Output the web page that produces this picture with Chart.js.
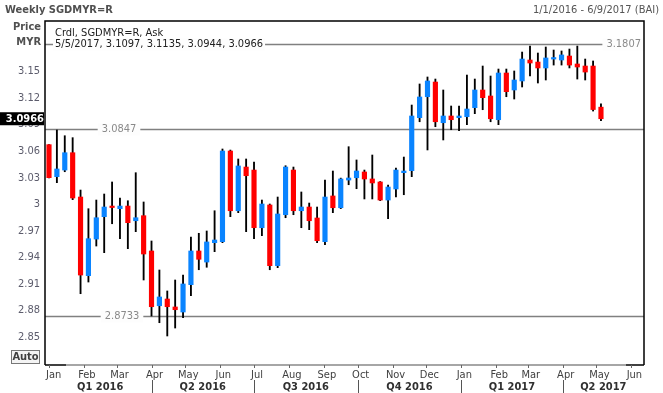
<!DOCTYPE html>
<html><head><meta charset="utf-8">
<script src="https://cdn.jsdelivr.net/npm/chart.js@4/dist/chart.umd.min.js"></script>
<style>html,body{margin:0;padding:0;background:#fff;} #wrap{position:relative;width:663px;height:393px;}</style>
</head><body><div id="wrap"><canvas id="c" width="663" height="393"></canvas></div>
<script>
// ---- DATA ----
const dates = ['1/1/2016','1/8/2016','1/15/2016','1/22/2016','1/29/2016','2/5/2016','2/12/2016','2/19/2016','2/26/2016','3/4/2016','3/11/2016','3/18/2016','3/25/2016','4/1/2016','4/8/2016','4/15/2016','4/22/2016','4/29/2016','5/6/2016','5/13/2016','5/20/2016','5/27/2016','6/3/2016','6/10/2016','6/17/2016','6/24/2016','7/1/2016','7/8/2016','7/15/2016','7/22/2016','7/29/2016','8/5/2016','8/12/2016','8/19/2016','8/26/2016','9/2/2016','9/9/2016','9/16/2016','9/23/2016','9/30/2016','10/7/2016','10/14/2016','10/21/2016','10/28/2016','11/4/2016','11/11/2016','11/18/2016','11/25/2016','12/2/2016','12/9/2016','12/16/2016','12/23/2016','12/30/2016','1/6/2017','1/13/2017','1/20/2017','1/27/2017','2/3/2017','2/10/2017','2/17/2017','2/24/2017','3/3/2017','3/10/2017','3/17/2017','3/24/2017','3/31/2017','4/7/2017','4/14/2017','4/21/2017','4/28/2017','5/5/2017'];
const openV  = [3.0673,3.0311,3.0386,3.0582,3.0081,2.9192,2.9606,2.9859,2.9966,2.9949,2.9979,2.9813,2.9870,2.9471,2.8852,2.8928,2.8838,2.8781,2.9090,2.9471,2.9346,2.9565,2.9576,3.0601,2.9926,3.0420,3.0386,2.9734,2.9991,2.9305,2.9881,3.0386,2.9926,2.9968,2.9844,2.9576,3.0093,2.9960,3.0273,3.0299,3.0364,3.0285,3.0251,3.0047,3.0172,3.0356,3.0379,3.0978,3.1215,3.1381,3.0921,3.0997,3.0978,3.0989,3.1091,3.1291,3.1223,3.0955,3.1483,3.1291,3.1393,3.1630,3.1607,3.1540,3.1641,3.1630,3.1675,3.1585,3.1562,3.1562,3.1097];
const highV  = [3.0675,3.0839,3.0774,3.0752,3.0160,2.9949,3.0047,3.0115,3.0251,3.0070,3.0039,3.0356,3.0025,2.9584,2.9256,2.9019,2.9143,2.9199,2.9629,2.9671,2.9697,2.9926,3.0624,3.0612,3.0511,3.0511,3.0477,3.0047,3.0002,3.0081,3.0435,3.0420,3.0138,3.0013,2.9968,3.0273,3.0375,3.0295,3.0650,3.0500,3.0386,3.0556,3.0256,3.0217,3.0409,3.0533,3.1121,3.1359,3.1438,3.1415,3.1291,3.1110,3.1110,3.1460,3.1415,3.1562,3.1449,3.1528,3.1528,3.1506,3.1720,3.1788,3.1709,3.1777,3.1743,3.1732,3.1754,3.1788,3.1641,3.1619,3.1135];
const lowV   = [3.0298,3.0243,3.0367,3.0051,2.8988,2.9120,2.9527,2.9452,2.9779,2.9610,2.9497,2.9689,2.9143,2.8736,2.8660,2.8510,2.8600,2.8717,2.8965,2.9259,2.9287,2.9463,2.9565,2.9859,2.9904,2.9689,2.9610,2.9644,2.9259,2.9282,2.9847,2.9881,2.9734,2.9712,2.9565,2.9542,2.9904,2.9950,3.0220,3.0175,3.0059,3.0059,3.0040,2.9836,3.0081,3.0107,3.0311,3.0932,3.0613,3.0876,3.0726,3.0842,3.0831,3.0899,3.1023,3.1068,3.0932,3.0899,3.1215,3.1189,3.1325,3.1449,3.1370,3.1404,3.1573,3.1573,3.1540,3.1415,3.1404,3.1053,3.0944];
const closeV = [3.0300,3.0398,3.0582,3.0070,2.9199,2.9610,2.9847,2.9968,2.9962,2.9979,2.9791,2.9847,2.9437,2.8841,2.8951,2.8841,2.8807,2.9098,2.9471,2.9377,2.9573,2.9595,3.0601,2.9926,3.0432,3.0322,2.9734,3.0002,2.9305,2.9889,3.0420,2.9926,2.9968,2.9813,2.9587,3.0081,2.9960,3.0285,3.0296,3.0375,3.0285,3.0240,3.0047,3.0194,3.0386,3.0375,3.0997,3.1212,3.1393,3.0932,3.0997,3.0955,3.0997,3.1076,3.1291,3.1204,3.0966,3.1483,3.1272,3.1404,3.1641,3.1596,3.1540,3.1653,3.1653,3.1687,3.1573,3.1551,3.1494,3.1070,3.0966];
const yTicks = [2.85,2.88,2.91,2.94,2.97,3.00,3.03,3.06,3.09,3.12,3.15];
const yTickLabels = ['2.85','2.88','2.91','2.94','2.97','3','3.03','3.06','3.09','3.12','3.15'];
const monthLabels = ['Jan','Feb','Mar','Apr','May','Jun','Jul','Aug','Sep','Oct','Nov','Dec','Jan','Feb','Mar','Apr','May','Jun'];
const monthStarts = ['1/1/2016','2/1/2016','3/1/2016','4/1/2016','5/1/2016','6/1/2016','7/1/2016','8/1/2016','9/1/2016','10/1/2016','11/1/2016','12/1/2016','1/1/2017','2/1/2017','3/1/2017','4/1/2017','5/1/2017','6/1/2017'];
const quarterLabels = ['Q1 2016','Q2 2016','Q3 2016','Q4 2016','Q1 2017','Q2 2017'];
const quarterStarts = ['1/1/2016','4/1/2016','7/1/2016','10/1/2016','1/1/2017','4/1/2017'];
const refLines = [3.1807, 3.0847, 2.8733];
const refLabels = ['3.1807','3.0847','2.8733'];
const lastLabel = '3.0966';
const headerTitle = 'Weekly SGDMYR=R';
const headerRange = '1/1/2016 - 6/9/2017 (BAI)';
const legendLine1 = 'Crdl, SGDMYR=R, Ask';
const legendLine2 = '5/5/2017, 3.1097, 3.1135, 3.0944, 3.0966';

// ---- helpers ----
const dayOf = s => { const [m,d,y] = s.split('/').map(Number); return (Date.UTC(y,m-1,d) - Date.UTC(2016,0,1)) / 864e5; };
const days = dates.map(dayOf);
const FONT = '"DejaVu Sans Condensed","DejaVu Sans",sans-serif';
const RED = '#ff0000', BLUE = '#0a84ff';

const decor = {
  id: 'decor',
  beforeDatasetsDraw(chart) {
    const {ctx, chartArea: a, scales: {x, y}} = chart;
    ctx.save();
    ctx.font = '11px ' + FONT;
    ctx.textBaseline = 'middle';
    const labelPos = [null, 119, 122]; // null -> right aligned
    refLines.forEach((v, i) => {
      const py = Math.round(y.getPixelForValue(v)) + 0.5;
      ctx.strokeStyle = '#808080'; ctx.lineWidth = 1.5;
      ctx.beginPath(); ctx.moveTo(a.left, py); ctx.lineTo(a.right, py); ctx.stroke();
      const w = ctx.measureText(refLabels[i]).width;
      let cx = labelPos[i] === null ? a.right - 3 - w / 2 : labelPos[i];
      ctx.fillStyle = '#fdfdfd';
      ctx.fillRect(cx - w / 2 - 4, py - 6, w + 8, 12);
      ctx.fillStyle = '#8a8a8a'; ctx.textAlign = 'center';
      ctx.fillText(refLabels[i], cx, py);
    });
    // legend text
    ctx.textAlign = 'left';
    ctx.fillStyle = '#202020';
    ctx.fillText(legendLine1, a.left + 10, 33);
    const py0 = Math.round(y.getPixelForValue(refLines[0])) + 0.5;
    const w2 = ctx.measureText(legendLine2).width;
    ctx.fillStyle = '#fdfdfd';
    ctx.fillRect(a.left + 8, py0 - 6, w2 + 4, 12);
    ctx.fillStyle = '#202020';
    ctx.fillText(legendLine2, a.left + 10, py0);
    ctx.restore();
  },
  afterDraw(chart) {
    const {ctx, chartArea: a, scales: {x, y}} = chart;
    ctx.save();
    // border
    ctx.strokeStyle = '#000'; ctx.lineWidth = 1.5;
    ctx.beginPath();
    ctx.moveTo(a.left, a.bottom); ctx.lineTo(a.left, a.top); ctx.lineTo(a.right, a.top); ctx.lineTo(a.right, a.bottom);
    ctx.stroke();
    ctx.beginPath(); ctx.moveTo(a.left, a.bottom); ctx.lineTo(a.right, a.bottom); ctx.stroke();
    ctx.strokeStyle = '#c8c8c8';
    ctx.beginPath(); ctx.moveTo(66, a.bottom); ctx.lineTo(626, a.bottom); ctx.stroke();
    // y tick labels
    ctx.font = '11px ' + FONT;
    ctx.textBaseline = 'middle'; ctx.textAlign = 'right';
    ctx.fillStyle = '#5c5c6c';
    yTicks.forEach((v, i) => ctx.fillText(yTickLabels[i], 40, y.getPixelForValue(v)));
    // last value box
    const ly = y.getPixelForValue(closeV[closeV.length - 1]);
    ctx.fillStyle = '#000';
    ctx.fillRect(0, ly - 6.5, a.left - 1, 13);
    ctx.fillStyle = '#fff'; ctx.font = 'bold 11px ' + FONT;
    ctx.fillText(lastLabel, 44, ly + 0.5);
    // header
    ctx.textAlign = 'left'; ctx.fillStyle = '#505050';
    ctx.font = 'bold 11px ' + FONT;
    ctx.fillText(headerTitle, 5, 10);
    ctx.textAlign = 'right';
    ctx.fillText('Price', 41, 27);
    ctx.fillText('MYR', 41, 42);
    ctx.font = '11px ' + FONT; ctx.fillStyle = '#555';
    ctx.fillText(headerRange, 659, 10);
    // Auto box
    ctx.strokeStyle = '#777'; ctx.lineWidth = 1;
    ctx.strokeRect(11.5, 350.5, 28, 13);
    ctx.fillStyle = '#f4f4f4'; ctx.fillRect(12, 351, 27, 12);
    ctx.fillStyle = '#404040'; ctx.font = 'bold 11px ' + FONT; ctx.textAlign = 'center';
    ctx.fillText('Auto', 25.5, 357.5);
    // x month labels and ticks
    ctx.font = '11px ' + FONT; ctx.fillStyle = '#404040';
    ctx.strokeStyle = '#666';
    monthStarts.forEach((s, i) => {
      const px = x.getPixelForValue(dayOf(s));
      const w = ctx.measureText(monthLabels[i]).width;
      let cx = px + 3;
      if (cx - w / 2 < a.left) cx = a.left + 1 + w / 2;
      ctx.fillText(monthLabels[i], cx, 375);
      if (px >= a.left) { ctx.beginPath(); ctx.moveTo(Math.round(px) + 0.5, a.bottom); ctx.lineTo(Math.round(px) + 0.5, a.bottom + 3); ctx.stroke(); }
    });
    // quarters
    ctx.font = 'bold 11px ' + FONT; ctx.fillStyle = '#303030';
    quarterStarts.forEach((s, i) => {
      const p0 = Math.max(a.left, x.getPixelForValue(dayOf(s)));
      const p1 = i + 1 < quarterStarts.length ? x.getPixelForValue(dayOf(quarterStarts[i + 1])) : a.right;
      ctx.fillText(quarterLabels[i], (p0 + p1) / 2, 387);
      if (i > 0) {
        ctx.strokeStyle = '#555';
        ctx.beginPath(); ctx.moveTo(Math.round(p0) + 0.5, 380); ctx.lineTo(Math.round(p0) + 0.5, 393); ctx.stroke();
      }
    });
    ctx.restore();
  }
};

new Chart(document.getElementById('c').getContext('2d'), {
  type: 'bar',
  data: {
    datasets: [
      {
        label: 'body',
        data: days.map((d, i) => ({x: d, y: [openV[i], closeV[i]]})),
        backgroundColor: days.map((d, i) => closeV[i] >= openV[i] ? BLUE : RED),
        barThickness: 4.5, minBarLength: 1.5, grouped: false, order: 0, borderWidth: 0
      },
      {
        label: 'wick',
        data: days.map((d, i) => ({x: d, y: [lowV[i], highV[i]]})),
        backgroundColor: '#000', barThickness: 1.2, grouped: false, order: 1, borderWidth: 0
      }
    ]
  },
  options: {
    responsive: false, animation: false, events: [],
    layout: {padding: {left: 45, right: 19, top: 21, bottom: 28}},
    plugins: {legend: {display: false}, tooltip: {enabled: false}},
    scales: {
      x: {type: 'linear', display: false, min: -3.55, max: 528.2, offset: false},
      y: {display: false, min: 2.8182, max: 3.2071}
    }
  },
  plugins: [decor]
});
</script></body></html>
